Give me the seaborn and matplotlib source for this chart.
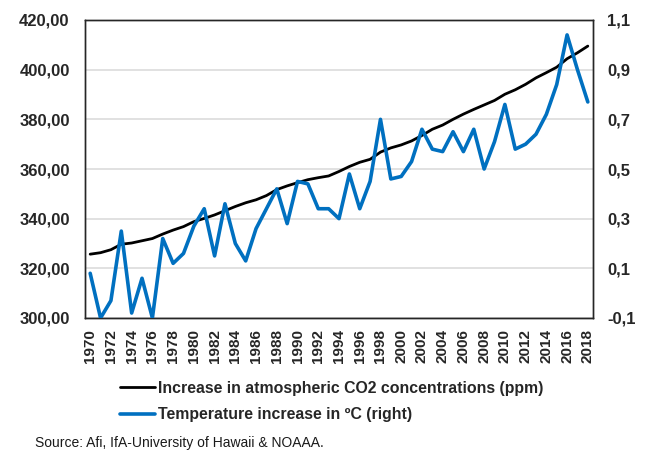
import matplotlib
matplotlib.use("Agg")
import matplotlib.pyplot as plt
import seaborn as sns
import pandas as pd
import numpy as np
from matplotlib.ticker import FuncFormatter, MultipleLocator

years = list(range(1970, 2019))
co2_ppm = [325.7, 326.3, 327.5, 329.7, 330.2, 331.1, 332.0, 333.8, 335.4, 336.8,
           338.8, 340.1, 341.5, 343.2, 344.9, 346.4, 347.6, 349.3, 351.7, 353.2,
           354.5, 355.7, 356.5, 357.2, 359.0, 361.0, 362.7, 363.9, 366.8, 368.5,
           369.7, 371.3, 373.5, 376.0, 377.7, 380.0, 382.1, 384.0, 385.8, 387.6,
           390.1, 391.9, 394.1, 396.7, 398.8, 401.0, 404.4, 406.8, 409.5]
temp_c = [0.08, -0.10, -0.03, 0.25, -0.08, 0.06, -0.10, 0.22, 0.12, 0.16,
          0.27, 0.34, 0.15, 0.36, 0.20, 0.13, 0.26, 0.34, 0.42, 0.28,
          0.45, 0.44, 0.34, 0.34, 0.30, 0.48, 0.34, 0.45, 0.70, 0.46,
          0.47, 0.53, 0.66, 0.58, 0.57, 0.65, 0.57, 0.66, 0.50, 0.61,
          0.76, 0.58, 0.60, 0.64, 0.72, 0.84, 1.04, 0.90, 0.77]
co2_label = "Increase in atmospheric CO2 concentrations (ppm)"
temp_label = "Temperature increase in ºC (right)"
source_text = "Source: Afi, IfA-University of Hawaii & NOAAA."

df = pd.DataFrame({"year": years, "co2": co2_ppm, "temp": temp_c})

sns.set_style("white")
plt.rcParams["font.family"] = ["Liberation Sans", "DejaVu Sans"]

fig = plt.figure(figsize=(6.46, 4.5), dpi=100)
ax = fig.add_axes([85/646, 1-318/450, (593-85)/646, (318-20)/450])
ax2 = ax.twinx()

blue = "#0070C0"
sns.lineplot(data=df, x="year", y="co2", ax=ax, color="black", linewidth=2.0,
             label=co2_label, legend=False, zorder=3)
sns.lineplot(data=df, x="year", y="temp", ax=ax2, color=blue, linewidth=2.6,
             label=temp_label, legend=False, zorder=4)

ax.set_xlim(1969.5, 2018.5)
ax.set_ylim(300, 420)
ax2.set_ylim(-0.1, 1.1)
ax.yaxis.set_major_locator(MultipleLocator(20))
ax2.set_yticks(np.round(np.arange(-0.1, 1.11, 0.2), 1))
ax.set_xticks(years[::2])
ax.set_xticklabels([str(y) for y in years[::2]], rotation=90, fontweight="bold", fontsize=11)

ax.yaxis.set_major_formatter(FuncFormatter(lambda v, p: f"{v:.2f}".replace(".", ",")))
ax2.yaxis.set_major_formatter(FuncFormatter(lambda v, p: f"{v:.1f}".replace(".", ",")))
for lab in ax.get_yticklabels() + ax2.get_yticklabels():
    lab.set_fontweight("bold")
    lab.set_fontsize(12)

ax.tick_params(axis="y", length=0, pad=11)
ax.tick_params(axis="x", length=0, pad=8)
ax2.tick_params(axis="y", length=0, pad=10)
ax.set_xlabel("")
ax.set_ylabel("")
ax2.set_ylabel("")

ax.grid(axis="y", color="#D9D9D9", linewidth=1.1)
ax.set_axisbelow(True)
for a in (ax, ax2):
    for s in a.spines.values():
        s.set_visible(True)
        s.set_color("#262626")
        s.set_linewidth(1.0)

h1, l1 = ax.get_legend_handles_labels()
h2, l2 = ax2.get_legend_handles_labels()
leg = fig.legend(h1 + h2, l1 + l2, loc="upper left",
                 bbox_to_anchor=(120/646, 1-381/450), frameon=False,
                 prop={"weight": "bold", "size": 11.4}, handlelength=2.2,
                 handletextpad=0.2, labelspacing=0.72, borderpad=0, borderaxespad=0)

fig.text(35/646, 1-443/450, source_text, fontsize=10, va="center", ha="left", color="#1a1a1a")

fig.savefig("out.png", dpi=100)
